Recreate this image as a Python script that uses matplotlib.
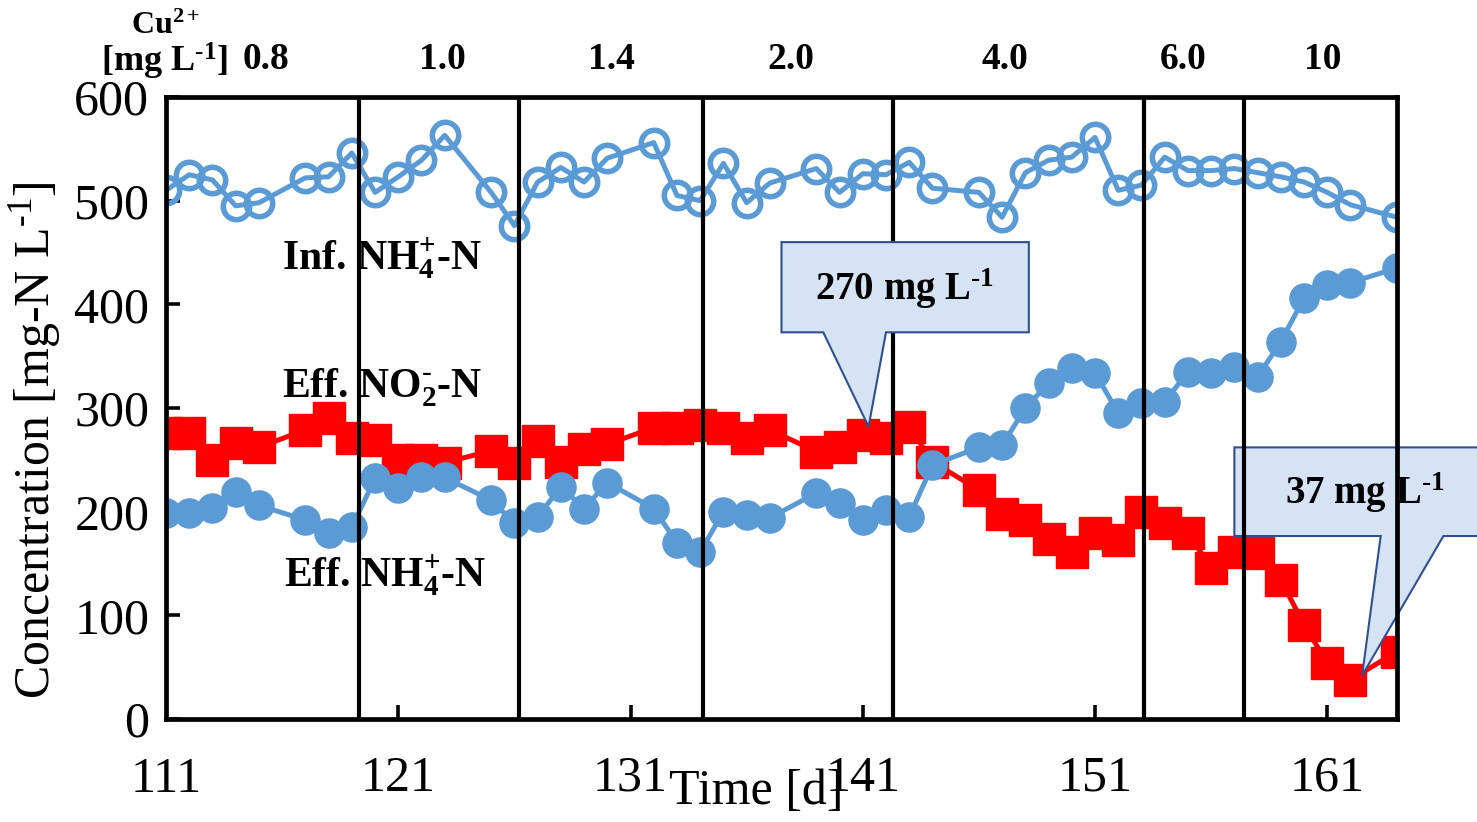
import numpy as np
import matplotlib
matplotlib.use("Agg")
import matplotlib.pyplot as plt
from matplotlib.patches import Polygon

plt.rcParams['font.family'] = ['Liberation Serif', 'DejaVu Serif']
plt.rcParams['mathtext.fontset'] = 'custom'
plt.rcParams['mathtext.rm'] = 'Liberation Serif'
plt.rcParams['mathtext.it'] = 'Liberation Serif:italic'
plt.rcParams['mathtext.bf'] = 'Liberation Serif:bold'

# sampling days (one day a week skipped)
days = [111, 112, 113, 114, 115, 117, 118, 119, 120, 121, 122, 123, 125, 126,
        127, 128, 129, 130, 132, 133, 134, 135, 136, 137, 139, 140, 141, 142,
        143, 144, 146, 147, 148, 149, 150, 151, 152, 153, 154, 155, 156, 157,
        158, 159, 160, 161, 162, 164]

inf_nh4 = [510, 525, 520, 495, 498, 522, 523, 546, 508, 523, 539, 563, 508, 476,
           518, 532, 518, 541, 556, 505, 500, 536, 498, 517, 531, 508, 526, 525,
           537, 512, 508, 484, 527, 539, 542, 561, 510, 515, 542, 529, 529, 531,
           527, 523, 518, 508, 496, 484]

eff_nh4 = [199, 199, 204, 219, 206, 192, 179, 185, 232, 223, 233, 233, 211, 189,
           195, 224, 203, 228, 203, 170, 161, 200, 197, 194, 218, 208, 192, 202,
           195, 245, 262, 264, 300, 324, 339, 334, 295, 305, 306, 335, 334, 340,
           330, 364, 406, 419, 421, 435]

eff_no2 = [276, 276, 250, 266, 262, 279, 290, 271, 269, 250, 250, 247, 259, 247,
           268, 248, 260, 265, 281, 281, 284, 281, 271, 279, 258, 262, 274, 271,
           282, 248, 221, 198, 192, 174, 161, 179, 173, 200, 189, 179, 146, 161,
           160, 134, 91, 54, 38, 65]

# Cu2+ phase boundaries [d] and dosing levels
phase_bounds = [119.3, 126.2, 134.1, 142.3, 153.1, 157.4]
cu_levels = ['0.8', '1.0', '1.4', '2.0', '4.0', '6.0', '10']
cu_label_x = [115.3, 122.9, 130.2, 137.9, 147.1, 154.8, 160.8]

blue = '#5B9BD5'
red = '#FF0000'

fig = plt.figure(figsize=(14.77, 8.22), dpi=100)
ax = fig.add_axes([0.1124, 0.1253, 0.8334, 0.7567])

ax.plot(days, inf_nh4, '-o', color=blue, lw=3.6, ms=19, mfc='none', mew=4,
        zorder=3)
ax.plot(days, eff_no2, '-s', color=red, lw=3.6, ms=23, mec=red, zorder=3)
ax.plot(days, eff_nh4, '-o', color=blue, lw=3.6, ms=21, mec=blue, zorder=4)

for b in phase_bounds:
    ax.axvline(b, color='black', lw=3, zorder=5)

ax.set_xlim(111, 164)
ax.set_ylim(0, 600)
ax.set_xticks([121, 131, 141, 151, 161])
ax.set_yticks(range(0, 601, 100))
ax.tick_params(direction='in', length=10, width=2.6, labelsize=36)
ax.tick_params(axis='x', pad=26)
ax.tick_params(axis='y', pad=12)
for s in ax.spines.values():
    s.set_linewidth(3.4)
    s.set_zorder(6)

# 111 label sits on the left spine
ax.text(111, -0.06, '111', transform=ax.get_xaxis_transform(), ha='center',
        va='top', fontsize=36)

fig.text(0.512, 0.008, 'Time [d]', ha='center', va='bottom', fontsize=36)
fig.text(0.024, 0.465, r'Concentration [mg-N L$^{\text{-}1}$]', rotation=90,
         ha='center', va='center', fontsize=36)

# Cu2+ level labels above the axes
for xl, lv in zip(cu_label_x, cu_levels):
    ax.text(xl, 1.06, lv, transform=ax.get_xaxis_transform(), ha='center',
            va='center', fontsize=27, fontweight='bold')
fig.text(0.112, 0.968, r'Cu$^{\mathbf{2+}}$', ha='center', va='center',
         fontsize=23, fontweight='bold')
fig.text(0.154, 0.925, r'[mg L$^{\mathbf{\text{-}1}}$]', ha='right',
         va='center', fontsize=26, fontweight='bold')

# series labels
ax.text(116.0, 444, r'Inf. NH$_{\mathbf{4}}^{\mathbf{+}}$-N', fontsize=30,
        fontweight='bold', ha='left', va='center', zorder=7)
ax.text(116.0, 320, r'Eff. NO$_{\mathbf{2}}^{\mathbf{\text{-}}}$-N',
        fontsize=30, fontweight='bold', ha='left', va='center', zorder=7)
ax.text(116.1, 138, r'Eff. NH$_{\mathbf{4}}^{\mathbf{+}}$-N', fontsize=30,
        fontweight='bold', ha='left', va='center', zorder=7)

# callouts
box_fc = '#D5E3F4'
box_ec = '#2F4F8F'
call1 = [(137.5, 460), (148.15, 460), (148.15, 373), (142.0, 373),
         (141.25, 282), (139.3, 373), (137.5, 373)]
ax.add_patch(Polygon(call1, closed=True, fc=box_fc, ec=box_ec, lw=1.5,
                     zorder=8, clip_on=False))
ax.text(142.8, 415, r'270 mg L$^{\mathbf{\text{-}1}}$', fontsize=28,
        fontweight='bold', ha='center', va='center', zorder=9)

call2 = [(157.0, 262), (168.5, 262), (168.5, 176.5), (166.0, 176.5),
         (162.5, 42), (163.3, 176.5), (157.0, 176.5)]
ax.add_patch(Polygon(call2, closed=True, fc=box_fc, ec=box_ec, lw=1.5,
                     zorder=4.5, clip_on=False))
ax.text(162.6, 218, r'37 mg L$^{\mathbf{\text{-}1}}$', fontsize=28,
        fontweight='bold', ha='center', va='center', zorder=9)

fig.savefig('out.png', dpi=100)
